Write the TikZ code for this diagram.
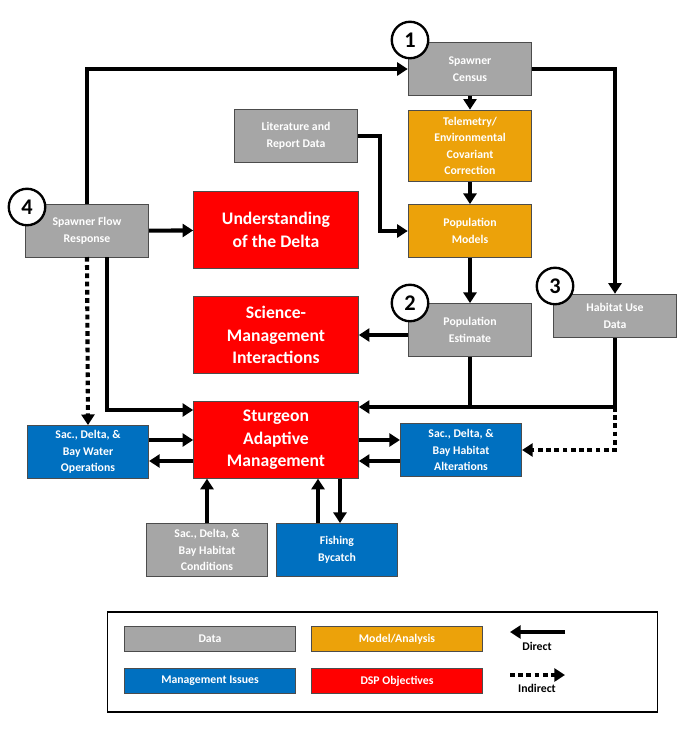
\documentclass[tikz,border=0pt]{standalone}
\usepackage{fontspec}
\setmainfont{Carlito}
\usetikzlibrary{positioning, arrows.meta}

\definecolor{datagray}{HTML}{A6A6A6}
\definecolor{modelorange}{HTML}{ECA20A}
\definecolor{mgmtblue}{HTML}{0070C0}
\definecolor{dspred}{HTML}{FF0000}

\begin{document}
\begin{tikzpicture}[x=0.85pt,y=-0.85pt]
\tikzset{box/.style={draw=black!70, line width=0.8pt, text=white, align=center, inner sep=0pt,
    font=\bfseries\fontsize{10}{14}\selectfont},
  data/.style={box, fill=datagray, minimum width=105pt, minimum height=45pt},
  model/.style={box, fill=modelorange, minimum width=105pt},
  mgmt/.style={box, fill=mgmtblue, minimum width=103pt, minimum height=45pt},
  dsp/.style={box, fill=dspred, minimum width=140pt, minimum height=65pt, font=\bfseries\fontsize{15}{19}\selectfont},
  key/.style={box, minimum width=145pt, minimum height=22pt},
  num/.style={circle, draw, line width=2pt, fill=white, minimum size=31pt, inner sep=0pt, font=\bfseries\fontsize{19}{19}\selectfont},
  direct/.style={line width=3.5pt, -{Triangle[length=9pt,width=11pt]}},
  indirect/.style={direct, dash pattern=on 4pt off 3pt}}
\useasboundingbox (0,0) rectangle (680,733);

% data boxes
\node[data] (census) at (470,69) {Spawner\\Census};
\node[data] (lit) at (296,136) {Literature and\\Report Data};
\node[data] (flow) at (87,231) {Spawner Flow\\Response};
\node[data] (estimate) at (470,330) {Population\\Estimate};
\node[data, minimum height=37pt] (habuse) at (615,316) {Habitat Use\\Data};
\node[data, minimum width=103pt] (cond) at (207,550) {Sac., Delta, \&\\Bay Habitat\\Conditions};
% models
\node[model, minimum height=61pt] (telemetry) at (470,146) {Telemetry/\\Environmental\\Covariant\\Correction};
\node[model, minimum height=45pt] (popmodel) at (470,231) {Population\\Models};
% objectives
\node[dsp] (delta) at (276,230) {Understanding\\of the Delta};
\node[dsp] (science) at (276,335) {Science-\\Management\\Interactions};
\node[dsp] (sam) at (276,440) {Sturgeon\\Adaptive\\Management};
% management issues
\node[mgmt] (water) at (88,452) {Sac., Delta, \&\\Bay Water\\Operations};
\node[mgmt] (alter) at (461,450) {Sac., Delta, \&\\Bay Habitat\\Alterations};
\node[mgmt] (fish) at (337,550) {Fishing\\Bycatch};

\node[num] (n1) at (410,40) {1};
\node[num] (n2) at (410,303) {2};
\node[num] (n3) at (555,286) {3};
\node[num] (n4) at (27,207) {4};

% connectors
\draw[direct] (flow.north) |- (census.west);
\draw[direct] (census.east) -| (habuse.north);
\draw[direct] (census) -- (telemetry);
\draw[direct] (telemetry) -- (popmodel);
\draw[direct] (lit.east) -| (380,231) -- (popmodel.west);
\draw[direct] (popmodel) -- (estimate);
\draw[direct] (estimate.west |- science) -- (science.east);
\draw[direct] (flow) -- (delta);
\draw[direct] (107,257) |- (sam.west |- 0,410);
\draw[indirect] (87,257) -- (water.north);
\draw[direct] (estimate.south) |- (sam.east |- 0,407);
\draw[line width=3.5pt] (habuse.south) |- (470,407);
\draw[indirect] (615,407) |- (alter.east);
\draw[direct] (water.east |- 0,440) -- (sam.west |- 0,440);
\draw[direct] (sam.west |- 0,461) -- (water.east |- 0,461);
\draw[direct] (sam.east |- 0,440) -- (alter.west |- 0,440);
\draw[direct] (alter.west |- 0,461) -- (sam.east |- 0,461);
\draw[direct] (cond.north) -- (sam.south -| cond.north);
\draw[direct] (fish.north -| 318,0) -- (sam.south -| 318,0);
\draw[direct] (sam.south -| 340,0) -- (fish.north -| 340,0);

% legend
\node[draw, line width=1pt, minimum width=467pt, minimum height=85pt] (legend) at (382.5,662) {};
\node[key, fill=datagray] (kdata) at (210,639) {Data};
\node[key, fill=modelorange] (kmodel) at (397,639) {Model/Analysis};
\node[key, fill=mgmtblue] (kmgmt) at (210,681) {Management Issues};
\node[key, fill=dspred] (kdsp) at (397,681) {DSP Objectives};
\coordinate (d1) at (565,632);
\coordinate (d2) at (510,632);
\coordinate (i1) at (510,675);
\coordinate (i2) at (565,675);
\draw[direct] (d1) -- (d2);
\draw[indirect] (i1) -- (i2);
\node[font=\bfseries\fontsize{10}{12}\selectfont] (ldirect) at (537,646) {Direct};
\node[font=\bfseries\fontsize{10}{12}\selectfont] (lindirect) at (537,688) {Indirect};
\end{tikzpicture}
\end{document}
